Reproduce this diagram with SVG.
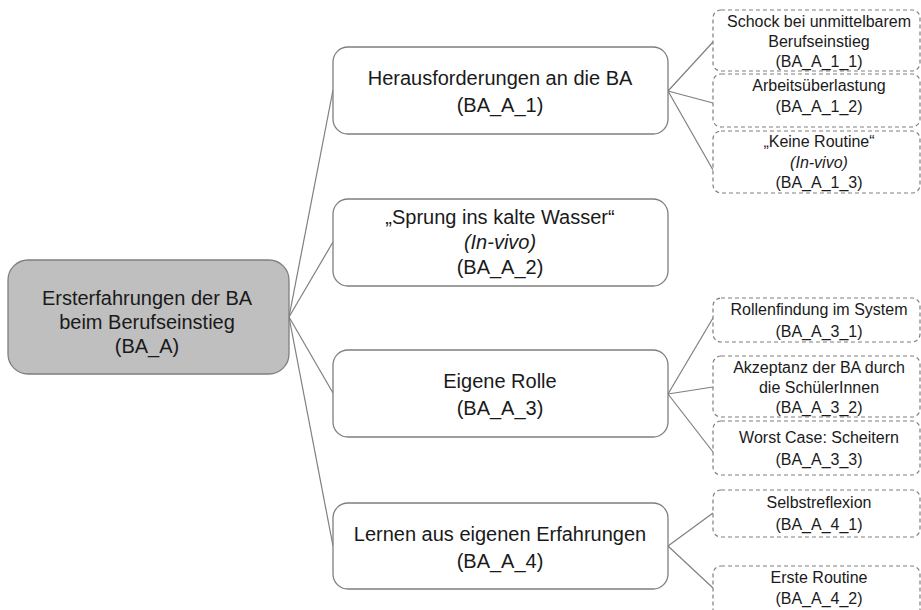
<svg xmlns="http://www.w3.org/2000/svg" width="921" height="610" viewBox="0 0 921 610">
<style>
text{font-family:"Liberation Sans",Arial,sans-serif;fill:#1a1a1a;text-anchor:middle}
.big{font-size:20px}
.small{font-size:16px}
.it{font-style:italic}
.root{fill:#bfbfbf;stroke:#7f7f7f;stroke-width:1.3}
.mid{fill:#fff;stroke:#7f7f7f;stroke-width:1.3}
.leaf{fill:#fff;stroke:#7f7f7f;stroke-width:1.2;stroke-dasharray:4 3}
.conn line{stroke:#7f7f7f;stroke-width:1.2}
</style>
<rect width="921" height="610" fill="#fff"/>
<g id="connectors" class="conn">
<line x1="289" y1="317" x2="333" y2="90"/>
<line x1="289" y1="317" x2="333" y2="242"/>
<line x1="289" y1="317" x2="333" y2="393"/>
<line x1="289" y1="317" x2="333" y2="546"/>
<line x1="668" y1="91" x2="713" y2="42"/>
<line x1="668" y1="91" x2="713" y2="103"/>
<line x1="668" y1="91" x2="713" y2="170"/>
<line x1="668" y1="394" x2="713" y2="318"/>
<line x1="668" y1="394" x2="713" y2="387"/>
<line x1="668" y1="394" x2="713" y2="452"/>
<line x1="668" y1="546" x2="713" y2="513"/>
<line x1="668" y1="546" x2="713" y2="588"/>
</g>
<g id="BA_A">
<rect class="root" x="8" y="260" width="281" height="114" rx="20"/>
<text class="big" x="147" y="305">Ersterfahrungen der BA</text>
<text class="big" x="147" y="329">beim Berufseinstieg</text>
<text class="big" x="147" y="353">(BA_A)</text>
</g>
<g id="BA_A_1">
<rect class="mid" x="333" y="47" width="335" height="87" rx="15"/>
<text class="big" x="500" y="85">Herausforderungen an die BA</text>
<text class="big" x="500" y="112">(BA_A_1)</text>
</g>
<g id="BA_A_2">
<rect class="mid" x="333" y="199" width="335" height="87" rx="15"/>
<text class="big" x="500" y="224">„Sprung ins kalte Wasser“</text>
<text class="big it" x="500" y="249">(In-vivo)</text>
<text class="big" x="500" y="274">(BA_A_2)</text>
</g>
<g id="BA_A_3">
<rect class="mid" x="333" y="350" width="335" height="87" rx="15"/>
<text class="big" x="500" y="388">Eigene Rolle</text>
<text class="big" x="500" y="415">(BA_A_3)</text>
</g>
<g id="BA_A_4">
<rect class="mid" x="333" y="503" width="335" height="86" rx="15"/>
<text class="big" x="500" y="541">Lernen aus eigenen Erfahrungen</text>
<text class="big" x="500" y="568">(BA_A_4)</text>
</g>
<g id="BA_A_1_1">
<rect class="leaf" x="713" y="10" width="207" height="61" rx="8"/>
<text class="small" x="819" y="27">Schock bei unmittelbarem</text>
<text class="small" x="819" y="47">Berufseinstieg</text>
<text class="small" x="819" y="67">(BA_A_1_1)</text>
</g>
<g id="BA_A_1_2">
<rect class="leaf" x="713" y="74" width="207" height="53" rx="8"/>
<text class="small" x="819" y="91">Arbeitsüberlastung</text>
<text class="small" x="819" y="112">(BA_A_1_2)</text>
</g>
<g id="BA_A_1_3">
<rect class="leaf" x="713" y="131" width="207" height="62" rx="8"/>
<text class="small" x="819" y="147">„Keine Routine“</text>
<text class="small it" x="819" y="168">(In-vivo)</text>
<text class="small" x="819" y="188">(BA_A_1_3)</text>
</g>
<g id="BA_A_3_1">
<rect class="leaf" x="713" y="298" width="207" height="44" rx="8"/>
<text class="small" x="819" y="315">Rollenfindung im System</text>
<text class="small" x="819" y="337">(BA_A_3_1)</text>
</g>
<g id="BA_A_3_2">
<rect class="leaf" x="713" y="356" width="207" height="61" rx="8"/>
<text class="small" x="819" y="373">Akzeptanz der BA durch</text>
<text class="small" x="819" y="393">die SchülerInnen</text>
<text class="small" x="819" y="413">(BA_A_3_2)</text>
</g>
<g id="BA_A_3_3">
<rect class="leaf" x="713" y="421" width="207" height="54" rx="8"/>
<text class="small" x="819" y="443">Worst Case: Scheitern</text>
<text class="small" x="819" y="465">(BA_A_3_3)</text>
</g>
<g id="BA_A_4_1">
<rect class="leaf" x="713" y="490" width="207" height="47" rx="8"/>
<text class="small" x="819" y="508">Selbstreflexion</text>
<text class="small" x="819" y="530">(BA_A_4_1)</text>
</g>
<g id="BA_A_4_2">
<rect class="leaf" x="713" y="566" width="207" height="60" rx="8"/>
<text class="small" x="819" y="583">Erste Routine</text>
<text class="small" x="819" y="604">(BA_A_4_2)</text>
</g>
</svg>
